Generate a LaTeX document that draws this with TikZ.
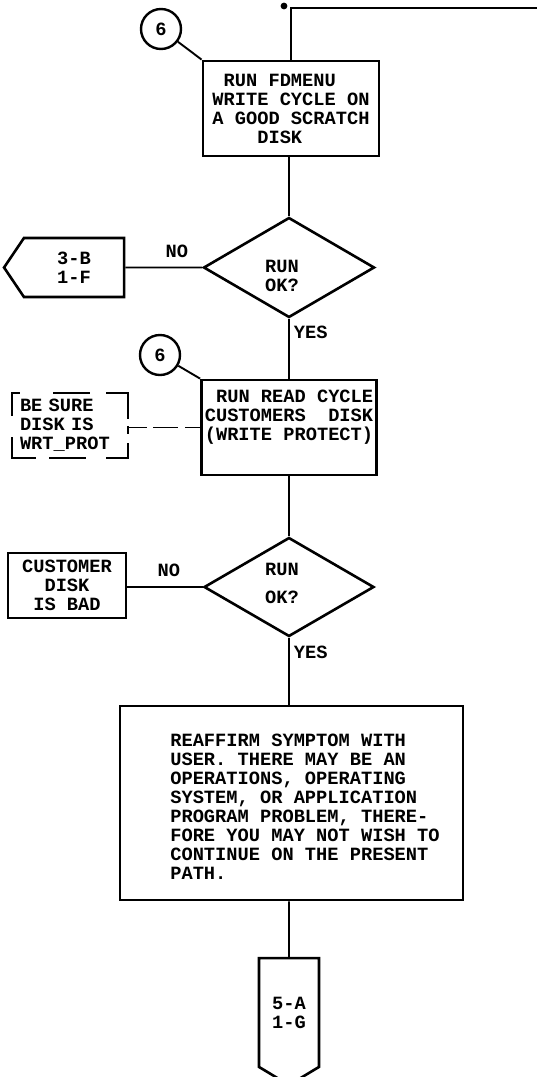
\documentclass[tikz,border=0pt]{standalone}
\usepackage{fontspec}
\setmonofont{Liberation Mono}
\usetikzlibrary{
  positioning,
  shapes.geometric,
  shapes.symbols}

\tikzset{
  chartfont/.style={
    font=\ttfamily\bfseries\fontsize{18.7}{19}\selectfont
  },
  procbox/.style={
    chartfont,
    rectangle,
    draw,
    line width=2.8pt,
    inner sep=0pt
  },
  decision/.style={
    diamond,
    draw,
    line width=2.6pt,
    inner sep=0pt
  },
  offpage/.style={
    chartfont,
    signal,
    signal from=nowhere,
    draw,
    line width=2.6pt,
    inner sep=0pt
  },
  entry/.style={
    chartfont,
    circle,
    draw,
    line width=2.4pt,
    minimum size=40pt,
    inner sep=0pt
  },
  flow/.style={
    line width=1.9pt
  },
  note/.style={
    chartfont,
    inner sep=0pt
  },
  dashside/.style={
    line width=2.4pt,
    line cap=rect
  }
}

\begin{document}
\begin{tikzpicture}[x=1pt,y=-1pt]
  \useasboundingbox (0,0) rectangle (537,1077);

  % Write cycle
  \node[entry] (six1) at (161,29) {6};

  \node[
    procbox,
    minimum width=176pt,
    minimum height=95pt,
    align=left
  ] (fd) at (291,108.5) {\ RUN FDMENU\\WRITE CYCLE ON\\A GOOD SCRATCH\\\ \ \ \ DISK};

  \coordinate (rim) at (537,8);
  \draw[flow] (fd.north) |- (rim);
  \fill (284,6) circle (3.4pt);
  \draw[flow] (six1) -- (fd.north west);

  % First check
  \node[
    decision,
    minimum width=171pt,
    minimum height=100pt
  ] (ok1) at (289,267.5) {};
  \node[note, align=center] (ok1txt) at (282,276) {RUN\\OK?};

  \node[
    offpage,
    signal to=west,
    signal pointer angle=112,
    minimum width=120pt,
    minimum height=59pt,
    align=center
  ] (b3) at (74,267.5) {3-B\\1-F};

  \draw[flow] (ok1 |- fd.south) -- (ok1.north);
  \draw[flow] (ok1) -- node[note, above=9pt, pos=0.33] (no1) {NO} (b3);

  % Read cycle
  \node[entry] (six2) at (160,355) {6};

  \node[
    procbox,
    minimum width=175pt,
    minimum height=95pt
  ] (rd) at (289,427.5) {};
  \node[note, align=left] (rdtxt) at (289,417.5) {\ RUN READ CYCLE\\CUSTOMERS\ \ DISK\\(WRITE PROTECT)};

  \draw[flow] (six2) -- (rd.north west);
  \draw[flow] (ok1) -- node[note, right=4pt, pos=0.23] (yes1) {YES} (rd);

  \node[
    chartfont,
    minimum width=116pt,
    minimum height=65pt,
    text width=100pt,
    align=left,
    inner sep=0pt
  ] (wp) at (70,425.5) {BE SURE\\DISK IS\\WRT\_PROT};

  % broken frame round the reminder
  \draw[dashside, dash pattern=on 7pt off 35pt on 35pt off 18pt on 23pt]
    (wp.north west) -- (wp.north east);
  \draw[dashside, dash pattern=on 23pt off 15pt on 35pt off 22pt on 23pt]
    (wp.south west) -- (wp.south east);
  \draw[dashside, dash pattern=on 22pt off 23pt on 20pt]
    (wp.north west) -- (wp.south west);
  \draw[dashside, dash pattern=on 25pt off 9pt on 6pt off 11pt on 14pt]
    (wp.north east) -- (wp.south east);

  \draw[flow, dash pattern=on 19pt off 6pt on 25pt off 7pt on 16pt]
    (rd.west -| wp.east) -- (rd.west);

  % Second check
  \node[
    decision,
    minimum width=170pt,
    minimum height=99pt
  ] (ok2) at (289,587) {};
  \node[note, align=center] (ok2txt) at (282,583) {RUN\\[9pt]OK?};

  \node[
    procbox,
    minimum width=118pt,
    minimum height=65pt,
    align=center
  ] (bad) at (67,585.5) {CUSTOMER\\DISK\\IS BAD};

  \draw[flow] (rd) -- (ok2);
  \draw[flow] (ok2) -- node[note, above=9pt, pos=0.45] (no2) {NO} (bad.east |- ok2);

  % Reaffirm
  \node[
    procbox,
    minimum width=343pt,
    minimum height=194pt
  ] (rf) at (291.5,803) {};
  \node[note, align=left] (rftxt) at (305,806.5) {REAFFIRM SYMPTOM WITH\\USER. THERE MAY BE AN\\OPERATIONS, OPERATING\\SYSTEM, OR APPLICATION\\PROGRAM PROBLEM, THERE-\\FORE YOU MAY NOT WISH TO\\CONTINUE ON THE PRESENT\\PATH.};

  \draw[flow] (ok2) -- node[note, right=4pt, pos=0.22] (yes2) {YES} (ok2 |- rf.north);

  \node[
    offpage,
    signal to=south,
    signal pointer angle=118,
    minimum width=60pt,
    minimum height=119pt,
    align=center
  ] (a5) at (289,1012.5) {5-A\\1-G};

  \draw[flow] (rf.south -| a5) -- (a5);
\end{tikzpicture}
\end{document}
